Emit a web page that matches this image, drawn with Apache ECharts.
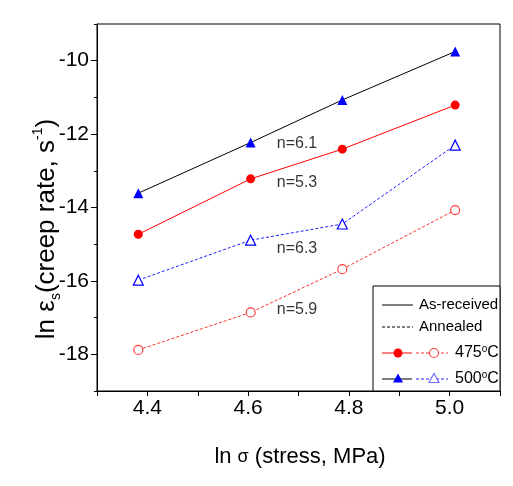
<!DOCTYPE html>
<html>
<head>
<meta charset="utf-8">
<script src="https://cdn.jsdelivr.net/npm/echarts@6/dist/echarts.min.js"></script>
<style>
html,body{margin:0;padding:0;background:#fff;}
#main{width:513px;height:486px;}
</style>
</head>
<body>
<div id="main"></div>
<script>
// ln(stress) values: ln 80, ln 100, ln 120, ln 150 MPa
var lnStress = [4.382, 4.605, 4.787, 5.011];
var asReceived500 = [-13.61, -12.23, -11.07, -9.75];
var asReceived475 = [-14.73, -13.22, -12.41, -11.21];
var annealed500 = [-15.98, -14.89, -14.45, -12.30];
var annealed475 = [-17.88, -16.86, -15.68, -14.07];

var annotLabels = ['n=6.1', 'n=5.3', 'n=6.3', 'n=5.9'];
var annotX = [4.697, 4.697, 4.697, 4.697];
var annotY = [-12.25, -13.32, -15.11, -16.79];

var xTickLabels = [4.4, 4.6, 4.8, 5.0];
var xTicks = [4.3, 4.4, 4.5, 4.6, 4.7, 4.8, 4.9, 5.0, 5.1];
var yTickLabels = [-18, -16, -14, -12, -10];

function pairs(ys) { return lnStress.map(function (x, i) { return [x, ys[i]]; }); }

var FONT = 'Liberation Sans, Arial, sans-serif';
var chart = echarts.init(document.getElementById('main'), null, {renderer: 'canvas'});

var option = {
  animation: false,
  backgroundColor: '#ffffff',
  grid: {left: 97, right: 13, top: 24, bottom: 95, show: true, borderColor: '#000', borderWidth: 1, backgroundColor: 'transparent'},
  xAxis: {
    type: 'value', min: 4.3, max: 5.1,
    axisLine: {show: true, lineStyle: {color: '#000', width: 1}},
    axisTick: {show: true, customValues: xTicks, length: 5, lineStyle: {color: '#000'}},
    axisLabel: {customValues: xTickLabels, formatter: function (v) { return v.toFixed(1); }, fontSize: 21, color: '#000', fontFamily: FONT, margin: 7},
    splitLine: {show: false}
  },
  yAxis: [{
    type: 'value', min: -19, max: -9,
    axisLine: {show: true, lineStyle: {color: '#000', width: 1}},
    axisTick: {show: true, customValues: yTickLabels, length: 6, lineStyle: {color: '#000'}},
    axisLabel: {customValues: yTickLabels, fontSize: 21, color: '#000', fontFamily: FONT, margin: 8},
    splitLine: {show: false}
  }, {
    type: 'value', min: -19, max: -9, interval: 1, position: 'left', offset: 0,
    axisLine: {show: false},
    axisTick: {show: true, length: 3, lineStyle: {color: '#000'}},
    axisLabel: {show: false},
    splitLine: {show: false}
  }],
  series: [
    {
      type: 'line', data: pairs(asReceived500), symbol: 'triangle', symbolSize: 10,
      lineStyle: {color: '#000', width: 1}, itemStyle: {color: '#0000ff'}, z: 3
    },
    {
      type: 'line', data: pairs(asReceived475), symbol: 'circle', symbolSize: 9,
      lineStyle: {color: '#ff0000', width: 1}, itemStyle: {color: '#ff0000'}, z: 3
    },
    {
      type: 'line', data: pairs(annealed500), symbol: 'triangle', symbolSize: 10,
      lineStyle: {color: '#2020ff', width: 1, type: [3, 2]},
      itemStyle: {color: '#ffffff', borderColor: '#0000ff', borderWidth: 1.2}, z: 3
    },
    {
      type: 'line', data: pairs(annealed475), symbol: 'circle', symbolSize: 9,
      lineStyle: {color: '#ff3030', width: 1, type: [3, 2]},
      itemStyle: {color: '#ffffff', borderColor: '#ff4040', borderWidth: 1.2}, z: 3
    },
    {
      type: 'scatter', symbolSize: 0, silent: true,
      data: annotLabels.map(function (t, i) { return {name: t, value: [annotX[i], annotY[i]]}; }),
      label: {show: true, position: 'inside', formatter: '{b}', fontSize: 16, color: '#000', fontFamily: FONT}
    }
  ],
  graphic: [
    {
      type: 'text', x: 47, y: 229, rotation: Math.PI / 2,
      style: {
        text: '{m|ln ε}{sub|s}{m|(creep rate, s}{sup|-1}{m|)}',
        align: 'center', verticalAlign: 'middle', fill: '#000',
        rich: {
          m: {fontSize: 26, fontFamily: FONT, lineHeight: 32, verticalAlign: 'middle'},
          sub: {fontSize: 14, fontFamily: FONT, lineHeight: 32, verticalAlign: 'bottom'},
          sup: {fontSize: 14, fontFamily: FONT, lineHeight: 32, verticalAlign: 'top'}
        }
      }
    },
    {
      type: 'text', x: 300, y: 457,
      style: {
        text: '{m|ln }{g|σ}{m| (stress, MPa)}',
        align: 'center', verticalAlign: 'middle', fill: '#000',
        rich: {
          m: {fontSize: 22, fontFamily: FONT, lineHeight: 28},
          g: {fontSize: 18, fontFamily: FONT, lineHeight: 28}
        }
      }
    },
    // legend box
    {type: 'rect', shape: {x: 373, y: 286, width: 127, height: 105}, style: {fill: '#fff', stroke: '#000', lineWidth: 1}, z: 10},
    {type: 'line', shape: {x1: 382, y1: 305, x2: 413, y2: 305}, style: {stroke: '#000', lineWidth: 1}, z: 11},
    {type: 'text', x: 419, y: 305, style: {text: 'As-received', fontSize: 15, fontFamily: FONT, fill: '#000', verticalAlign: 'middle'}, z: 11},
    {type: 'line', shape: {x1: 382, y1: 327, x2: 413, y2: 327}, style: {stroke: '#000', lineWidth: 1, lineDash: [3, 2]}, z: 11},
    {type: 'text', x: 419, y: 327, style: {text: 'Annealed', fontSize: 15, fontFamily: FONT, fill: '#000', verticalAlign: 'middle'}, z: 11},
    {type: 'line', shape: {x1: 382, y1: 353, x2: 412, y2: 353}, style: {stroke: '#ff0000', lineWidth: 1}, z: 11},
    {type: 'circle', shape: {cx: 398, cy: 353, r: 4.5}, style: {fill: '#ff0000'}, z: 12},
    {type: 'line', shape: {x1: 416, y1: 353, x2: 448, y2: 353}, style: {stroke: '#ff3030', lineWidth: 1, lineDash: [3, 2]}, z: 11},
    {type: 'circle', shape: {cx: 434, cy: 353, r: 4.5}, style: {fill: '#fff', stroke: '#ff4040', lineWidth: 1.2}, z: 12},
    {type: 'text', x: 455, y: 353, style: {text: '475{s|o}C', fontSize: 16, fontFamily: FONT, fill: '#000', verticalAlign: 'middle', rich: {s: {fontSize: 10, fontFamily: FONT, verticalAlign: 'top', lineHeight: 18}}}, z: 11},
    {type: 'line', shape: {x1: 382, y1: 379, x2: 412, y2: 379}, style: {stroke: '#000', lineWidth: 1}, z: 11},
    {type: 'polygon', shape: {points: [[398, 373.5], [403, 382.5], [393, 382.5]]}, style: {fill: '#0000ff'}, z: 12},
    {type: 'line', shape: {x1: 416, y1: 379, x2: 448, y2: 379}, style: {stroke: '#2020ff', lineWidth: 1, lineDash: [3, 2]}, z: 11},
    {type: 'polygon', shape: {points: [[434, 373.5], [439, 382.5], [429, 382.5]]}, style: {fill: '#fff', stroke: '#7070ff', lineWidth: 1.2}, z: 12},
    {type: 'text', x: 455, y: 379, style: {text: '500{s|o}C', fontSize: 16, fontFamily: FONT, fill: '#000', verticalAlign: 'middle', rich: {s: {fontSize: 10, fontFamily: FONT, verticalAlign: 'top', lineHeight: 18}}}, z: 11}
  ]
};
chart.setOption(option);
</script>
</body>
</html>
